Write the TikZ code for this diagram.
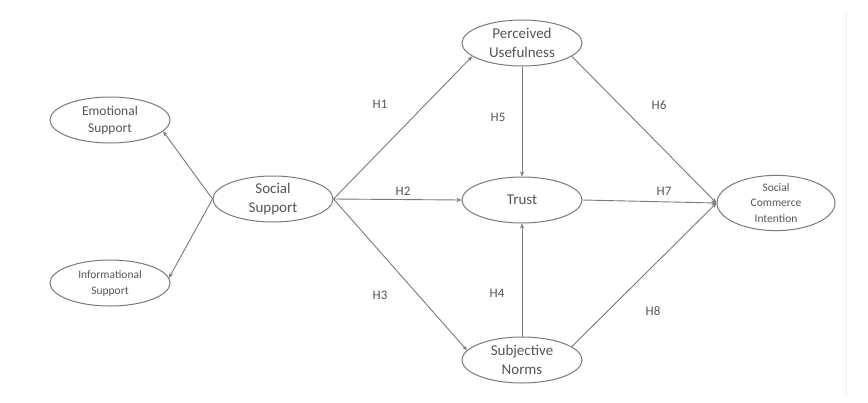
\documentclass[tikz,border=0pt]{standalone}
\usepackage{fontspec}
\setmainfont{Carlito}
\usetikzlibrary{arrows.meta,shapes.geometric}
\definecolor{ln}{HTML}{7A7A7A}
\definecolor{tx}{HTML}{555555}
\begin{document}
\begin{tikzpicture}[x=1pt,y=-1pt,
  construct/.style={draw=ln, line width=1pt, ellipse, inner sep=0pt, minimum width=120pt, minimum height=46pt, align=center, text=tx},
  link/.style={draw=ln, line width=0.9pt, -{Stealth[length=5pt,width=4pt]}},
  hlab/.style={text=tx, font=\fontsize{13}{15}\selectfont}]
\useasboundingbox (0,0) rectangle (868,402);
\fill[white] (0,0) rectangle (868,402);
\draw[black!7, line width=1pt] (846,13) -- (846,395);
\node[construct, font=\fontsize{13.5}{17}\selectfont] (es) at (110,120) {Emotional\\Support};
\node[construct, font=\fontsize{11.5}{16}\selectfont] (is) at (110,283) {Informational\\Support};
\node[construct, font=\fontsize{15}{19}\selectfont] (ss) at (273,199) {Social\\Support};
\node[construct, font=\fontsize{15}{19}\selectfont] (pu) at (522,43) {Perceived\\Usefulness};
\node[construct, font=\fontsize{15}{19}\selectfont] (tr) at (522,200) {Trust};
\node[construct, font=\fontsize{15}{19}\selectfont] (sn) at (522,360) {Subjective\\Norms};
\node[construct, minimum width=118pt, font=\fontsize{11.5}{15.5}\selectfont] (sci) at (776,203) {Social\\Commerce\\Intention};
\draw[link] (ss.west) -- (es.-12);
\draw[link] (ss.west) -- (is.5);
\draw[link] (ss.east) -- (pu.-165);
\draw[link] (ss.east) -- (tr.west);
\draw[link] (ss.east) -- (sn.170);
\draw[link] (pu.south) -- (tr.north);
\draw[link] (sn.north) -- (tr.south);
\draw[link] (pu.-15) -- (sci.west);
\draw[link] (tr.east) -- (sci.west);
\draw[link] (sn.15) -- (sci.west);
\node[hlab] (h1) at (380,104) {H1};
\node[hlab] (h5) at (498,117) {H5};
\node[hlab] (h6) at (659,105) {H6};
\node[hlab] (h2) at (403,191) {H2};
\node[hlab] (h7) at (664,191) {H7};
\node[hlab] (h3) at (380,295) {H3};
\node[hlab] (h4) at (497,293) {H4};
\node[hlab] (h8) at (653,311) {H8};
\end{tikzpicture}
\end{document}
